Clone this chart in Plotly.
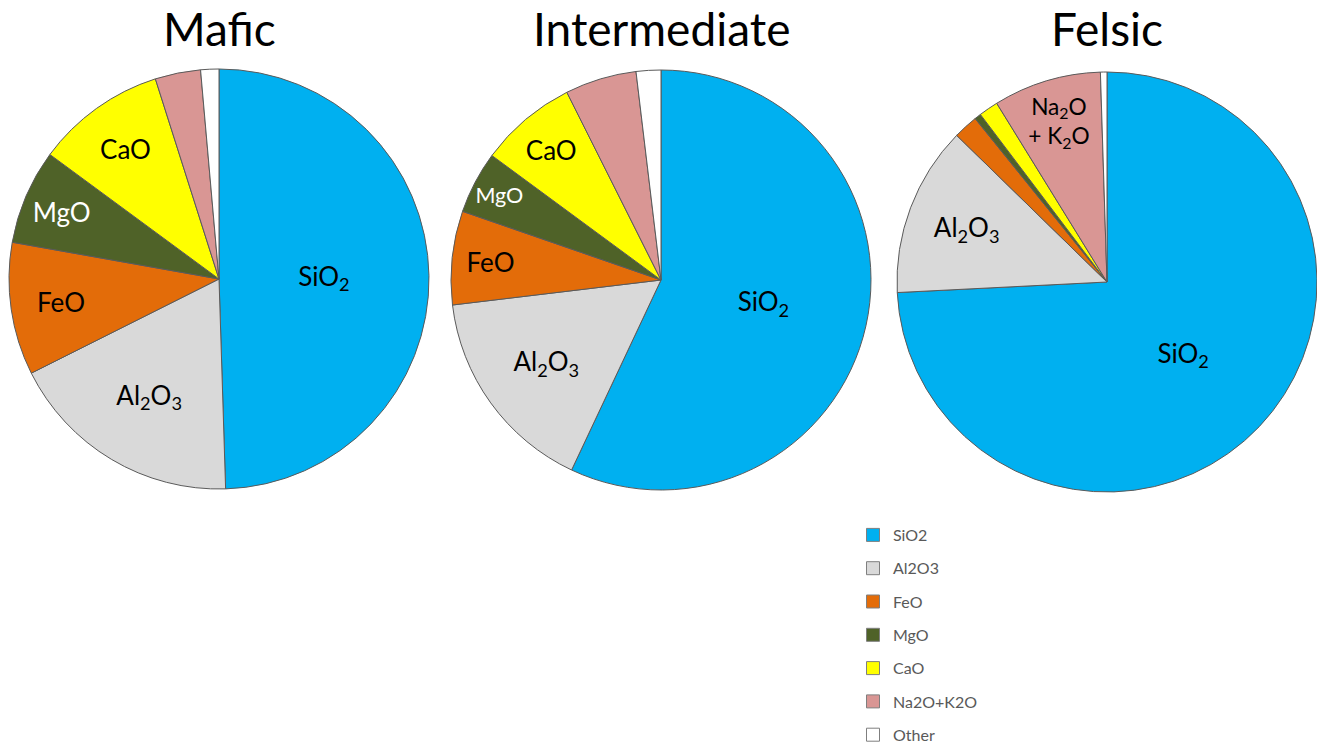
import plotly.graph_objects as go

categories = ["SiO2", "Al2O3", "FeO", "MgO", "CaO", "Na2O+K2O", "Other"]
colors = ["#00B0F0", "#D9D9D9", "#E36C09", "#4F6228", "#FFFF00", "#D99694", "#FFFFFF"]
mafic = [49.5, 18.1, 10.2, 7.3, 10.0, 3.5, 1.4]
intermediate = [57.0, 16.1, 7.2, 4.8, 7.5, 5.5, 1.9]
felsic = [74.2, 13.1, 1.9, 0.5, 1.5, 8.3, 0.5]
titles = ["Mafic", "Intermediate", "Felsic"]

lab_common = ["SiO<sub>2</sub>", "Al<sub>2</sub>O<sub>3</sub>", "FeO", "MgO", "CaO", "", ""]
lab_felsic = ["SiO<sub>2</sub>", "Al<sub>2</sub>O<sub>3</sub>", "", "", "", "Na<sub>2</sub>O<br>+ K<sub>2</sub>O", ""]
text_colors = ["black", "black", "black", "white", "black", "black", "black"]

W, H = 1317, 745
FONT = "Lato"

# pie domains in pixels (left, right, top, bottom)
doms = [(9, 429, 69, 489), (451, 871, 70, 490), (897, 1317, 72, 492)]

fig = go.Figure()
for vals, labs, d in zip([mafic, intermediate, felsic], [lab_common, lab_common, lab_felsic], doms):
    fig.add_trace(go.Pie(
        labels=categories, values=vals, text=labs,
        textinfo="text", textposition="inside", insidetextorientation="horizontal",
        textfont=dict(family=FONT, size=26, color=text_colors),
        marker=dict(colors=colors, line=dict(color="#5a5a5a", width=1)),
        sort=False, direction="clockwise", rotation=0,
        domain=dict(x=[d[0] / W, d[1] / W], y=[1 - d[3] / H, 1 - d[2] / H]),
        showlegend=False, hoverinfo="label+percent",
    ))

for i, (name, c) in enumerate(zip(categories, colors)):
    fig.add_trace(go.Scatter(
        x=[None], y=[None], mode="markers", name=name, legendgroup=name,
        marker=dict(symbol="square", size=13, color=c, line=dict(color="#7f7f7f", width=1)),
    ))

for t, d in zip(titles, doms):
    fig.add_annotation(text=t, x=(d[0] + d[1]) / 2 / W, y=1 - 29 / H, xref="paper", yref="paper",
                       showarrow=False, font=dict(family=FONT, size=46, color="black"),
                       xanchor="center", yanchor="middle")

fig.update_layout(
    width=W, height=H, margin=dict(l=0, r=0, t=0, b=0, autoexpand=False),
    paper_bgcolor="white", plot_bgcolor="white",
    xaxis=dict(visible=False), yaxis=dict(visible=False),
    legend=dict(x=853 / W, y=1 - 518 / H, xanchor="left", yanchor="top",
                font=dict(family=FONT, size=16, color="#595959"),
                tracegroupgap=9.5, bgcolor="rgba(0,0,0,0)"),
    font=dict(family=FONT),
)

fig.write_html("out.html", config={"displayModeBar": False},
               post_script="document.body.style.margin='0';")
